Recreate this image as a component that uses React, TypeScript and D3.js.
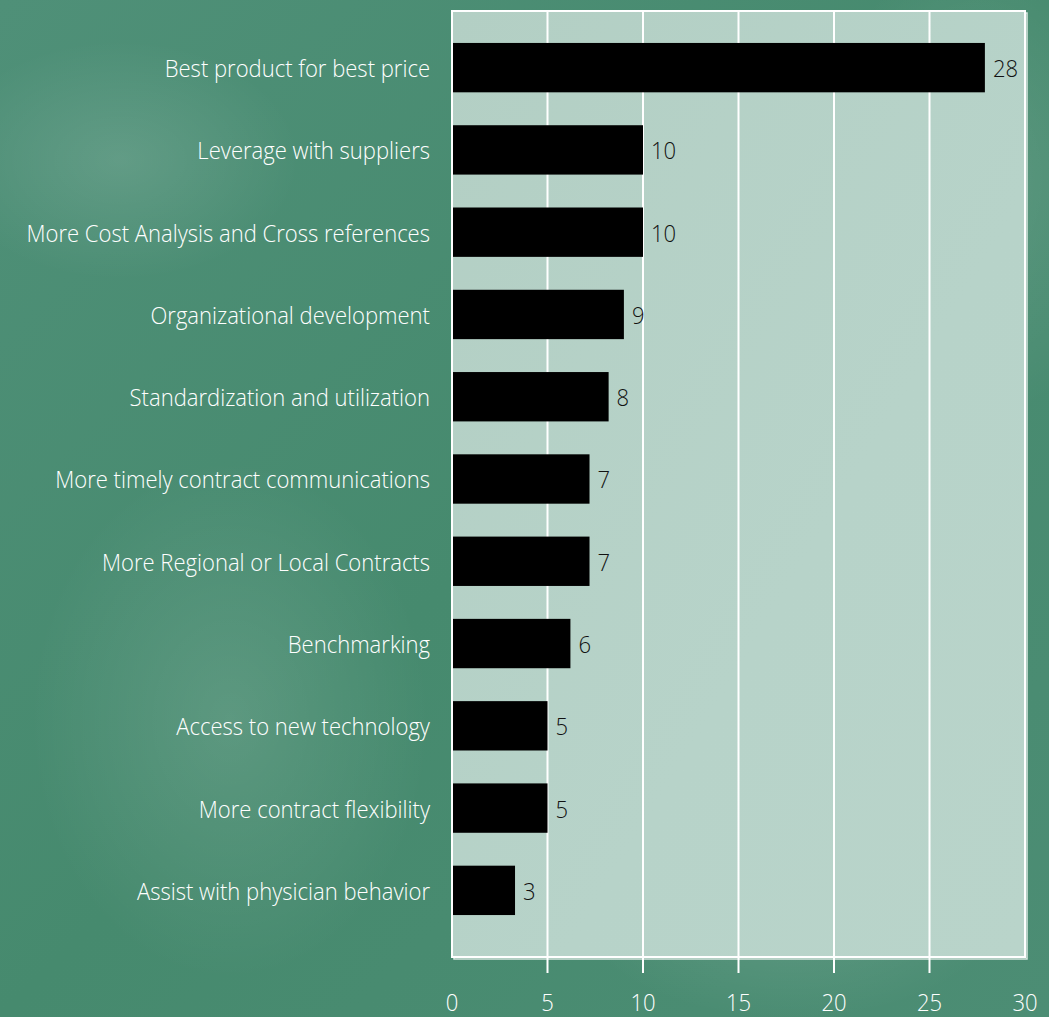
import React from "react";
import * as d3 from "d3";

const categories = [
  "Best product for best price",
  "Leverage with suppliers",
  "More Cost Analysis and Cross references",
  "Organizational development",
  "Standardization and utilization",
  "More timely contract communications",
  "More Regional or Local Contracts",
  "Benchmarking",
  "Access to new technology",
  "More contract flexibility",
  "Assist with physician behavior",
];
const values = [27.9, 10, 10, 9, 8.2, 7.2, 7.2, 6.2, 5, 5, 3.3];
const valueLabels = ["28", "10", "10", "9", "8", "7", "7", "6", "5", "5", "3"];
const xTicks = [0, 5, 10, 15, 20, 25, 30];

const W = 1049;
const H = 1017;
const plot = { left: 452, right: 1025, top: 11, bottom: 957 };
const FONT = "'Open Sans', 'Liberation Sans', sans-serif";
const SX = 0.9; // horizontal compression to mimic the condensed face

export default function App() {
  const x = d3.scaleLinear().domain([0, 30]).range([plot.left, plot.right]);
  const y = d3
    .scaleBand<string>()
    .domain(categories)
    .range([26.5, 931.5])
    .paddingInner(0.4)
    .paddingOuter(0.2);

  const textStyle: React.CSSProperties = {
    fontFamily: FONT,
    fontWeight: 300,
  };

  const T = (
    key: string,
    tx: number,
    ty: number,
    s: string,
    fill: string,
    anchor: "start" | "middle" | "end",
    central: boolean
  ) => (
    <g key={key} transform={`translate(${tx},${ty}) scale(${SX},1)`}>
      <text
        x={0}
        y={0}
        textAnchor={anchor}
        dominantBaseline={central ? "central" : "auto"}
        fontSize={24.5}
        fill={fill}
        style={textStyle}
      >
        {s}
      </text>
    </g>
  );

  return (
    <svg
      width={W}
      height={H}
      style={{ position: "absolute", left: 0, top: 0, display: "block" }}
    >
      <defs>
        <linearGradient id="bg" x1="0" y1="0" x2="1" y2="1">
          <stop offset="0" stopColor="#4f9078" />
          <stop offset="0.5" stopColor="#468a6e" />
          <stop offset="1" stopColor="#4c8d74" />
        </linearGradient>
        <radialGradient id="swirl" cx="0.5" cy="0.5" r="0.5">
          <stop offset="0" stopColor="#ffffff" stopOpacity="0.12" />
          <stop offset="1" stopColor="#ffffff" stopOpacity="0" />
        </radialGradient>
        <linearGradient id="plotbg" x1="0" y1="0" x2="1" y2="1">
          <stop offset="0" stopColor="#b3cfc4" />
          <stop offset="0.6" stopColor="#b7d3c9" />
          <stop offset="1" stopColor="#b9d4ca" />
        </linearGradient>
      </defs>
      <rect x={0} y={0} width={W} height={H} fill="url(#bg)" />
      <ellipse cx={120} cy={160} rx={180} ry={120} fill="url(#swirl)" />
      <ellipse cx={230} cy={720} rx={200} ry={260} fill="url(#swirl)" />
      <ellipse cx={980} cy={180} rx={160} ry={240} fill="url(#swirl)" />
      <ellipse cx={790} cy={900} rx={220} ry={120} fill="url(#swirl)" />

      {/* plot area shadow */}
      <rect
        x={plot.left + 2}
        y={plot.top + 2}
        width={plot.right - plot.left}
        height={plot.bottom - plot.top}
        fill="none"
        stroke="#d6e6df"
        strokeWidth={1.5}
      />
      <rect
        x={plot.left}
        y={plot.top}
        width={plot.right - plot.left}
        height={plot.bottom - plot.top}
        fill="url(#plotbg)"
        stroke="#ffffff"
        strokeWidth={2}
      />

      {/* gridlines and ticks */}
      {xTicks
        .filter((t) => t > 0 && t < 30)
        .map((t) => (
          <line
            key={t}
            x1={x(t)}
            x2={x(t)}
            y1={plot.top}
            y2={plot.bottom + 16}
            stroke="#ffffff"
            strokeWidth={2}
          />
        ))}

      {/* bars */}
      {categories.map((c, i) => (
        <rect
          key={c}
          x={x(0) + 1}
          y={y(c)}
          width={x(values[i]) - x(0) - 1}
          height={y.bandwidth()}
          fill="#000000"
        />
      ))}

      {/* value labels */}
      {categories.map((c, i) =>
        T(
          "v" + c,
          x(values[i]) + 8,
          (y(c) ?? 0) + y.bandwidth() / 2,
          valueLabels[i],
          "#111111",
          "start",
          true
        )
      )}

      {/* category labels */}
      {categories.map((c) =>
        T("c" + c, 430, (y(c) ?? 0) + y.bandwidth() / 2, c, "#ffffff", "end", true)
      )}

      {/* x tick labels */}
      {xTicks.map((t) => T("t" + t, x(t), 1011, String(t), "#ffffff", "middle", false))}
    </svg>
  );
}
